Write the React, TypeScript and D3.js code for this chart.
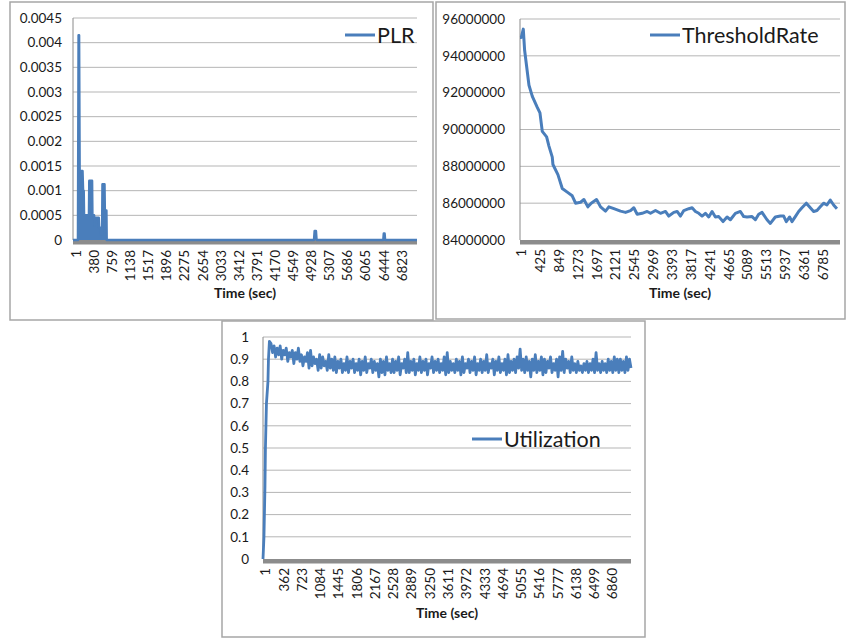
import React from 'react';
import * as d3 from 'd3';

const FONT = 'Lato, "Open Sans", sans-serif';
const BLUE = '#4a7ebb';
const GRID = '#b5b5b5';
const TXT = '#1a1a1a';

// ---------- PLR ----------
const plrTime = [1, 105, 118, 128, 140, 200, 212, 225, 232, 335, 342, 400, 407, 442, 450, 460, 540, 548, 575, 582, 610, 618, 660, 667, 700, 706, 5045, 5058, 5085, 5098, 6495, 6505, 6522, 6532, 7200];
const plrValue = [0, 0, 0.00415, 0.00415, 0.0014, 0.0014, 0.001, 0.001, 0.0005, 0.0005, 0.0012, 0.0012, 0.0005, 0.0005, 0.0003, 0.00045, 0.00045, 0.00025, 0.00025, 0.00012, 0.00012, 0.00113, 0.00113, 0.0006, 0.0006, 0, 0, 0.00018, 0.00018, 0, 0, 0.00013, 0.00013, 0, 0];
const plrYTicks = [0, 0.0005, 0.001, 0.0015, 0.002, 0.0025, 0.003, 0.0035, 0.004, 0.0045];
const plrXTicks = [1, 380, 759, 1138, 1517, 1896, 2275, 2654, 3033, 3412, 3791, 4170, 4549, 4928, 5307, 5686, 6065, 6444, 6823];

// ---------- ThresholdRate ----------
const thrTime = [1, 30, 75, 105, 203, 278, 390, 450, 502, 600, 652, 727, 742, 854, 952, 1064, 1176, 1251, 1364, 1439, 1528, 1603, 1723, 1813, 1925, 2000, 2113, 2262, 2375, 2487, 2562, 2637, 2749, 2862, 2937, 3049, 3161, 3274, 3348, 3461, 3536, 3611, 3686, 3798, 3873, 3948, 4023, 4097, 4172, 4247, 4322, 4397, 4472, 4569, 4659, 4734, 4846, 4959, 5034, 5109, 5221, 5296, 5371, 5446, 5558, 5633, 5745, 5858, 5933, 5992, 6067, 6120, 6195, 6270, 6344, 6442, 6532, 6607, 6682, 6756, 6831, 6906, 6981, 7056, 7131];
const thrValue = [95000000, 95000000, 95450000, 94300000, 92400000, 91800000, 91200000, 90900000, 89900000, 89600000, 89100000, 88500000, 88100000, 87550000, 86800000, 86600000, 86400000, 86000000, 86050000, 86200000, 85800000, 86000000, 86200000, 85800000, 85570000, 85800000, 85700000, 85570000, 85500000, 85600000, 85750000, 85400000, 85450000, 85550000, 85450000, 85600000, 85450000, 85550000, 85300000, 85500000, 85550000, 85300000, 85600000, 85700000, 85750000, 85550000, 85450000, 85300000, 85450000, 85250000, 85550000, 85250000, 85270000, 85000000, 85250000, 85100000, 85450000, 85550000, 85270000, 85250000, 85270000, 85100000, 85400000, 85500000, 85100000, 84900000, 85250000, 85300000, 85300000, 85000000, 85250000, 85000000, 85270000, 85550000, 85750000, 86000000, 85750000, 85550000, 85600000, 85800000, 86000000, 85900000, 86170000, 85900000, 85700000];
const thrYTicks = [84000000, 86000000, 88000000, 90000000, 92000000, 94000000, 96000000];
const thrXTicks = [1, 425, 849, 1273, 1697, 2121, 2545, 2969, 3393, 3817, 4241, 4665, 5089, 5513, 5937, 6361, 6785];

// ---------- Utilization ----------
const utilRiseTime = [1, 20, 40, 49, 69, 99, 109, 128];
const utilRiseValue = [0, 0.1, 0.33, 0.5, 0.7, 0.8, 0.9, 0.98];
const utilSampleStart = 160;
const utilSampleStep = 30;
const utilSamples = [
  0.97, 0.93, 0.96, 0.91, 0.95, 0.92, 0.96, 0.90, 0.94, 0.92,
  0.95, 0.89, 0.93, 0.91, 0.94, 0.88, 0.93, 0.90, 0.95, 0.89,
  0.92, 0.87, 0.91, 0.89, 0.93, 0.86, 0.94, 0.87, 0.91, 0.88,
  0.90, 0.85, 0.92, 0.86, 0.91, 0.87, 0.89, 0.85, 0.92, 0.86,
  0.90, 0.85, 0.91, 0.84, 0.89, 0.86, 0.90, 0.84, 0.88, 0.85,
  0.91, 0.84, 0.89, 0.86, 0.90, 0.84, 0.88, 0.85, 0.90, 0.83,
  0.89, 0.85, 0.91, 0.84, 0.88, 0.86, 0.90, 0.84, 0.89, 0.85,
  0.88, 0.82, 0.90, 0.84, 0.89, 0.83, 0.91, 0.85, 0.88, 0.84,
  0.90, 0.84, 0.89, 0.85, 0.91, 0.83, 0.88, 0.86, 0.90, 0.84,
  0.93, 0.84, 0.89, 0.85, 0.90, 0.83, 0.88, 0.85, 0.91, 0.84,
  0.89, 0.85, 0.90, 0.83, 0.88, 0.86, 0.91, 0.84, 0.89, 0.85,
  0.90, 0.84, 0.88, 0.85, 0.91, 0.83, 0.93, 0.84, 0.89, 0.85,
  0.88, 0.84, 0.90, 0.85, 0.89, 0.83, 0.91, 0.84, 0.88, 0.86,
  0.90, 0.84, 0.89, 0.85, 0.91, 0.83, 0.88, 0.85, 0.90, 0.84,
  0.89, 0.85, 0.92, 0.84, 0.88, 0.86, 0.90, 0.83, 0.89, 0.85,
  0.91, 0.84, 0.88, 0.85, 0.90, 0.83, 0.92, 0.84, 0.89, 0.85,
  0.90, 0.84, 0.91, 0.86, 0.945, 0.85, 0.90, 0.84, 0.91, 0.85,
  0.89, 0.82, 0.90, 0.85, 0.92, 0.84, 0.89, 0.85, 0.91, 0.83,
  0.90, 0.84, 0.89, 0.86, 0.91, 0.84, 0.88, 0.85, 0.90, 0.82,
  0.91, 0.85, 0.935, 0.84, 0.90, 0.86, 0.89, 0.84, 0.91, 0.85,
  0.88, 0.84, 0.89, 0.85, 0.87, 0.84, 0.88, 0.85, 0.89, 0.84,
  0.88, 0.85, 0.90, 0.84, 0.93, 0.85, 0.88, 0.84, 0.89, 0.85,
  0.88, 0.84, 0.90, 0.85, 0.89, 0.84, 0.91, 0.85, 0.90, 0.84,
  0.90, 0.85, 0.89, 0.84, 0.91, 0.85, 0.90, 0.86,
];
const utilTime = utilRiseTime.concat(utilSamples.map((_, i) => utilSampleStart + i * utilSampleStep));
const utilValue = utilRiseValue.concat(utilSamples);
const utilYTicks = [0, 0.1, 0.2, 0.3, 0.4, 0.5, 0.6, 0.7, 0.8, 0.9, 1];
const utilXTicks = [1, 362, 723, 1084, 1445, 1806, 2167, 2528, 2889, 3250, 3611, 3972, 4333, 4694, 5055, 5416, 5777, 6138, 6499, 6860];

type PanelProps = {
  box: [number, number, number, number];
  left: number; right: number; top: number; bottom: number;
  n: number;
  yDomain: [number, number];
  yTicks: number[];
  yFmt: (v: number) => string;
  yLabelX: number;
  xTicks: number[];
  xLabelTop: number;
  xLabelDx: number;
  time: number[];
  value: number[];
  fill?: boolean;
  strokeWidth: number;
  title: [number, number];
  legend: string;
  legendPos: [number, number];
};

function Panel(p: PanelProps) {
  const x = d3.scaleLinear().domain([1, p.n]).range([p.left, p.right]);
  const y = d3.scaleLinear().domain(p.yDomain).range([p.bottom, p.top]);
  const pts: [number, number][] = p.time.map((t, i) => [t, p.value[i]]);
  const line = d3.line<[number, number]>().x(d => x(d[0])).y(d => y(d[1]));
  const area = d3.area<[number, number]>().x(d => x(d[0])).y0(y(p.yDomain[0])).y1(d => y(d[1]));
  const [bx, by, bw, bh] = p.box;
  const [lx, ly] = p.legendPos;
  return (
    <g>
      <rect x={bx} y={by} width={bw} height={bh} fill="#fff" stroke="#a6a6a6" strokeWidth={1.5} />
      {p.yTicks.slice(1).map(t => (
        <line key={'g' + t} x1={p.left} x2={p.right} y1={y(t)} y2={y(t)} stroke={GRID} strokeWidth={1} />
      ))}
      <line x1={p.left} x2={p.left} y1={p.top} y2={p.bottom} stroke="#8a8a8a" strokeWidth={1} />
      <rect x={p.left} y={p.bottom} width={p.right - p.left} height={4.5} fill="#8c8c8c" />
      {p.fill && <path d={area(pts) || ''} fill={BLUE} stroke="none" />}
      <path d={line(pts) || ''} fill="none" stroke={BLUE} strokeWidth={p.strokeWidth} strokeLinejoin="round" />
      {p.yTicks.map(t => (
        <text key={'y' + t} x={p.yLabelX} y={y(t)} dy=".35em" textAnchor="end" fontSize={13.5} fill={TXT} fontFamily={FONT}>
          {p.yFmt(t)}
        </text>
      ))}
      {p.xTicks.map(t => (
        <text key={'x' + t} transform={`translate(${x(t) + p.xLabelDx},${p.xLabelTop}) rotate(-90)`} dy=".35em" textAnchor="end" fontSize={13.5} fill={TXT} fontFamily={FONT}>
          {t}
        </text>
      ))}
      <text x={p.title[0]} y={p.title[1]} textAnchor="middle" fontSize={14} fontWeight="bold" fill={TXT} fontFamily={FONT}>
        Time (sec)
      </text>
      <line x1={lx} x2={lx + 30} y1={ly} y2={ly} stroke={BLUE} strokeWidth={3} />
      <text x={lx + 32} y={ly} dy=".35em" fontSize={21.5} fill={TXT} fontFamily={FONT}>
        {p.legend}
      </text>
    </g>
  );
}

const fmtSmall = (v: number) => String(+v.toFixed(4));
const fmtBig = (v: number) => String(Math.round(v));
const fmtUtil = (v: number) => String(+v.toFixed(1));

export default function App() {
  return (
    <svg width={846} height={638} style={{ position: 'absolute', left: 0, top: 0, background: '#fff' }}>
      <rect x={0} y={0} width={846} height={638} fill="#fff" />
      <Panel
        box={[10, 2, 423, 318]} left={73} right={417} top={18} bottom={240} n={7200}
        yDomain={[0, 0.0045]} yTicks={plrYTicks} yFmt={fmtSmall} yLabelX={62}
        xTicks={plrXTicks} xLabelTop={250} xLabelDx={3}
        time={plrTime} value={plrValue} fill strokeWidth={2.5}
        title={[245, 298]} legend="PLR" legendPos={[345, 35]}
      />
      <Panel
        box={[436, 2, 409, 317]} left={520} right={840} top={19} bottom={240} n={7200}
        yDomain={[84000000, 96000000]} yTicks={thrYTicks} yFmt={fmtBig} yLabelX={505}
        xTicks={thrXTicks} xLabelTop={249} xLabelDx={1.5}
        time={thrTime} value={thrValue} strokeWidth={3}
        title={[680, 298]} legend="ThresholdRate" legendPos={[650, 35]}
      />
      <Panel
        box={[222, 321, 423, 316]} left={263} right={631} top={337} bottom={559} n={7270}
        yDomain={[0, 1]} yTicks={utilYTicks} yFmt={fmtUtil} yLabelX={249}
        xTicks={utilXTicks} xLabelTop={568} xLabelDx={2.5}
        time={utilTime} value={utilValue} strokeWidth={2.8}
        title={[447, 618]} legend="Utilization" legendPos={[472, 439]}
      />
    </svg>
  );
}
